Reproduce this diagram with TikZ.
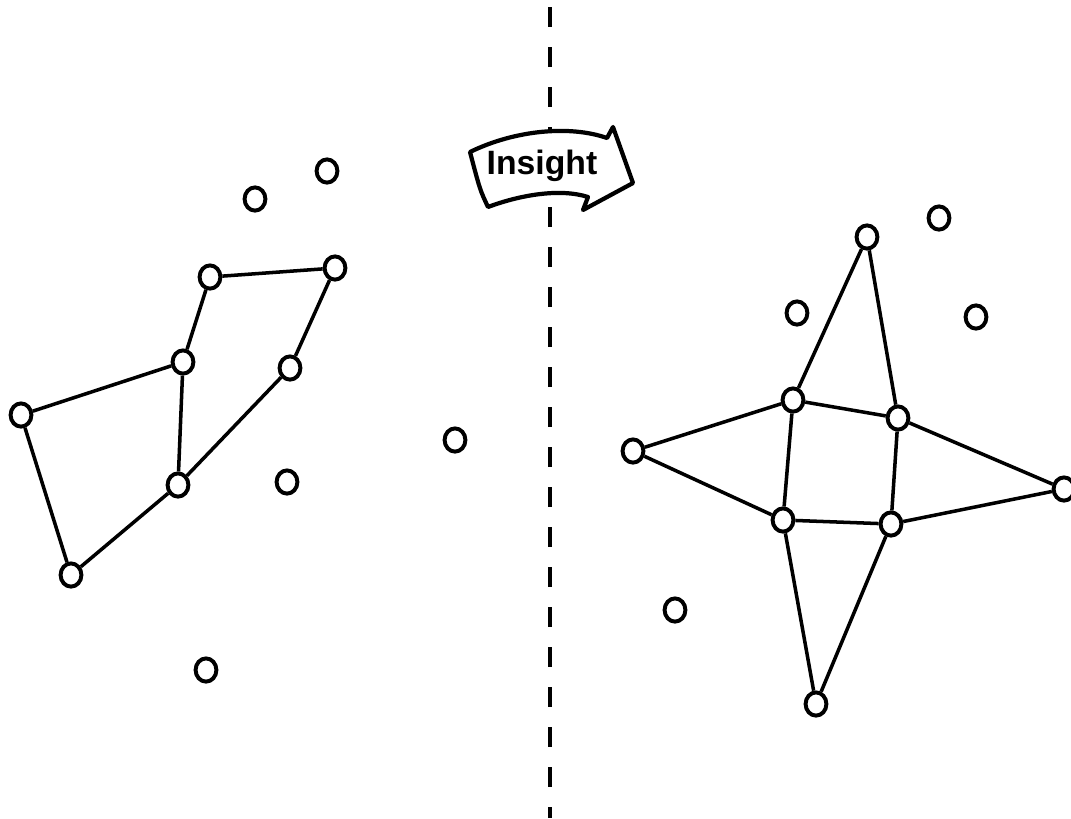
\documentclass[tikz,border=0pt]{standalone}
\usepackage{fontspec}
\setmainfont{Liberation Sans}
\usetikzlibrary{arrows.meta,positioning,calc,shapes.geometric}

\begin{document}
\begin{tikzpicture}[x=0.025cm,y=-0.025cm,>=Latex,
    spot/.style={draw, ellipse, line width=2.8pt, fill=white, minimum width=0.52cm, minimum height=0.58cm, inner sep=0pt},
    link/.style={line width=2.5pt}]
        \useasboundingbox (0,0) rectangle (1071,818);
        % divider
        \draw[line width=2.2pt, dash pattern=on 0.5cm off 0.5cm, dash phase=-0.18cm] (550,0) -- (550,818);
        % insight arrow
        \draw[line width=3pt, fill=white, line join=round] (470,152) .. controls (515,130) and (570,125) .. (607,138) -- (613,127) -- (633,183) -- (583,210) -- (588,197) .. controls (560,188) and (520,195) .. (488,207) .. controls (480,190) .. (470,152) -- cycle;
        \node[font=\fontsize{24}{26}\selectfont\bfseries] (insight) at (542,166) {Insight};
        % before: left graph
        \node[spot] (la) at (210,277) {};
        \node[spot] (lb) at (335,268) {};
        \node[spot] (lc) at (183,362) {};
        \node[spot] (ld) at (290,368) {};
        \node[spot] (le) at (21,415) {};
        \node[spot] (lf) at (178,485) {};
        \node[spot] (lg) at (71,575) {};
        \node[spot] (l1) at (255,199) {};
        \node[spot] (l2) at (327,171) {};
        \node[spot] (l3) at (287,482) {};
        \node[spot] (l4) at (455,440) {};
        \node[spot] (l5) at (206,670) {};
        \draw[link] (la) -- (lb);
        \draw[link] (la) -- (lc);
        \draw[link] (lb) -- (ld);
        \draw[link] (lc) -- (le);
        \draw[link] (lc) -- (lf);
        \draw[link] (ld) -- (lf);
        \draw[link] (le) -- (lg);
        \draw[link] (lf) -- (lg);
        % after: right graph
        \node[spot] (top) at (867,237) {};
        \node[spot] (ml) at (793,400) {};
        \node[spot] (mr) at (898,418) {};
        \node[spot] (west) at (633,451) {};
        \node[spot] (east) at (1064,489) {};
        \node[spot] (bl) at (783,520) {};
        \node[spot] (br) at (891,524) {};
        \node[spot] (bot) at (816,704) {};
        \node[spot] (r1) at (939,218) {};
        \node[spot] (r2) at (797,313) {};
        \node[spot] (r3) at (976,317) {};
        \node[spot] (r4) at (675,610) {};
        \draw[link] (top) -- (ml);
        \draw[link] (top) -- (mr);
        \draw[link] (ml) -- (mr);
        \draw[link] (ml) -- (bl);
        \draw[link] (mr) -- (br);
        \draw[link] (bl) -- (br);
        \draw[link] (west) -- (ml);
        \draw[link] (west) -- (bl);
        \draw[link] (mr) -- (east);
        \draw[link] (br) -- (east);
        \draw[link] (bl) -- (bot);
        \draw[link] (br) -- (bot);
    \end{tikzpicture}
\end{document}
